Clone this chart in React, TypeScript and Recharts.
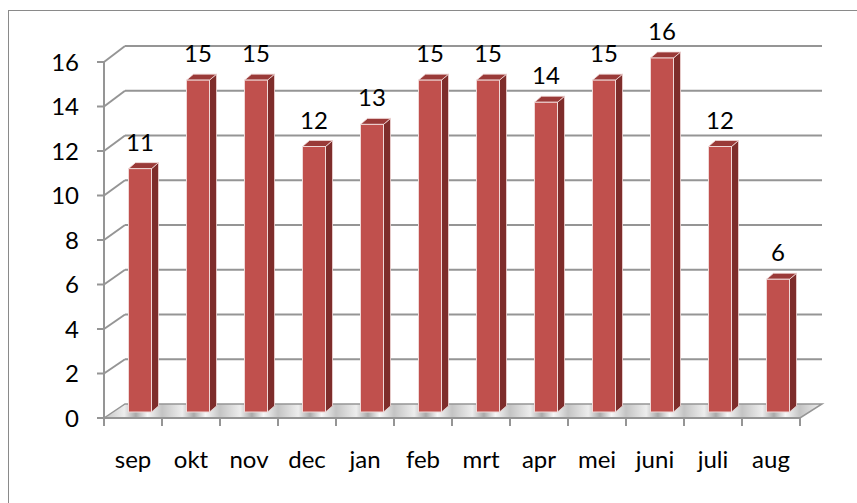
import { BarChart, Bar, XAxis, YAxis, CartesianGrid } from 'recharts';

const months = ['sep', 'okt', 'nov', 'dec', 'jan', 'feb', 'mrt', 'apr', 'mei', 'juni', 'juli', 'aug'];
const counts = [11, 15, 15, 12, 13, 15, 15, 14, 15, 16, 12, 6];
const yTicks = [0, 2, 4, 6, 8, 10, 12, 14, 16];

const data = months.map((m, i) => ({ month: m, value: counts[i] }));

const FONT = 'Lato, "Open Sans", sans-serif';
const GRID = '#959595';
// 3D depth of the back wall relative to the front plane
const DEPTH_X = 21;
const DEPTH_Y = 14;

const COLORS = {
  front: '#c0504d',
  side: '#7e2d2b',
  top: '#9a3a38',
  edge: '#f0d8d7',
};

// back-wall gridlines, side-wall diagonals and the floor, drawn behind the bars
const renderGridLine = (props: any) => {
  const { x1, x2, y1, y, height, index } = props;
  const bottom = y + height;
  const yb = bottom - DEPTH_Y - (bottom - y1) * (358 / 356);
  if (Math.abs(y1 - bottom) < 1) {
    return (
      <g key={`floor-${index}`}>
        <defs>
          <linearGradient id="floorGrad" gradientUnits="userSpaceOnUse" x1={x1} y1={0} x2={x1 + (x2 - x1) / 12} y2={0} spreadMethod="repeat">
            <stop offset="0" stopColor="#c4c4c4" />
            <stop offset="0.35" stopColor="#ededed" />
            <stop offset="0.55" stopColor="#a9a9a9" />
            <stop offset="0.75" stopColor="#f7f7f7" />
            <stop offset="1" stopColor="#c4c4c4" />
          </linearGradient>
        </defs>
        <polygon
          points={`${x1},${y1} ${x1 + DEPTH_X},${yb} ${x2 + DEPTH_X + 1},${yb} ${x2},${y1}`}
          fill="url(#floorGrad)"
          stroke={GRID}
          strokeWidth={1.5}
        />
      </g>
    );
  }
  return (
    <g key={`grid-${index}`}>
      <line x1={x1} y1={y1} x2={x1 + DEPTH_X} y2={yb} stroke={GRID} strokeWidth={2} />
      <line x1={x1 + DEPTH_X} y1={yb} x2={x2 + DEPTH_X + 1} y2={yb} stroke={GRID} strokeWidth={2} />
    </g>
  );
};

const Bar3D = (props: any) => {
  const { x, y, width, height, value } = props;
  const bottom = y + height - 6;
  const h = height * (354 / 356);
  const top = bottom - h;
  const fx = x + 6.5;
  const dx = 7;
  const dy = 6;
  return (
    <g>
      <polygon
        points={`${fx + width},${top} ${fx + width + dx},${top - dy} ${fx + width + dx},${bottom - dy} ${fx + width},${bottom}`}
        fill={COLORS.side}
        stroke={COLORS.edge}
        strokeWidth={0.8}
      />
      <polygon
        points={`${fx},${top} ${fx + dx},${top - dy} ${fx + width + dx},${top - dy} ${fx + width},${top}`}
        fill={COLORS.top}
        stroke={COLORS.edge}
        strokeWidth={0.8}
      />
      <rect x={fx} y={top} width={width} height={h} fill={COLORS.front} stroke={COLORS.edge} strokeWidth={1} />
      <text x={fx + width / 2} y={top - dy - 12} textAnchor="middle" fontSize={24} fontFamily={FONT} fill="#000">
        {value}
      </text>
    </g>
  );
};

const MonthTick = (props: any) => {
  const { x, y, payload, index } = props;
  const off = payload?.offset ?? 29;
  return (
    <g>
      <line x1={x - off} y1={y} x2={x - off} y2={y + 8} stroke={GRID} strokeWidth={2} />
      {index === months.length - 1 && (
        <line x1={x + off} y1={y} x2={x + off} y2={y + 8} stroke={GRID} strokeWidth={2} />
      )}
      <text x={x} y={y + 50} textAnchor="middle" fontSize={24} fontFamily={FONT} fill="#000">
        {payload.value}
      </text>
    </g>
  );
};

export default function App() {
  return (
    <div style={{ position: 'absolute', left: 0, top: 0, width: 857, height: 503, overflow: 'hidden', background: '#fff' }}>
      <div style={{ position: 'absolute', left: 8, top: 10, width: 900, height: 600, border: '1px solid #8a8a8a' }} />
      <div style={{ position: 'absolute', left: 0, top: 0 }}>
        <BarChart width={857} height={503} data={data} margin={{ top: 62, right: 57, bottom: 45, left: 0 }} barSize={23}>
          <CartesianGrid vertical={false} horizontal={renderGridLine} />
          <XAxis
            dataKey="month"
            height={40}
            tickLine={false}
            tickSize={0}
            tickMargin={0}
            axisLine={{ stroke: GRID, strokeWidth: 2 }}
            tick={<MonthTick />}
            interval={0}
          />
          <YAxis
            width={104}
            domain={[0, 16]}
            ticks={yTicks}
            interval={0}
            tickSize={7}
            tickMargin={18}
            axisLine={{ stroke: GRID, strokeWidth: 2 }}
            tickLine={{ stroke: GRID, strokeWidth: 2 }}
            tick={{ fontSize: 24, fontFamily: FONT, fill: '#000' }}
          />
          <Bar dataKey="value" shape={<Bar3D />} isAnimationActive={false} />
        </BarChart>
      </div>
    </div>
  );
}
